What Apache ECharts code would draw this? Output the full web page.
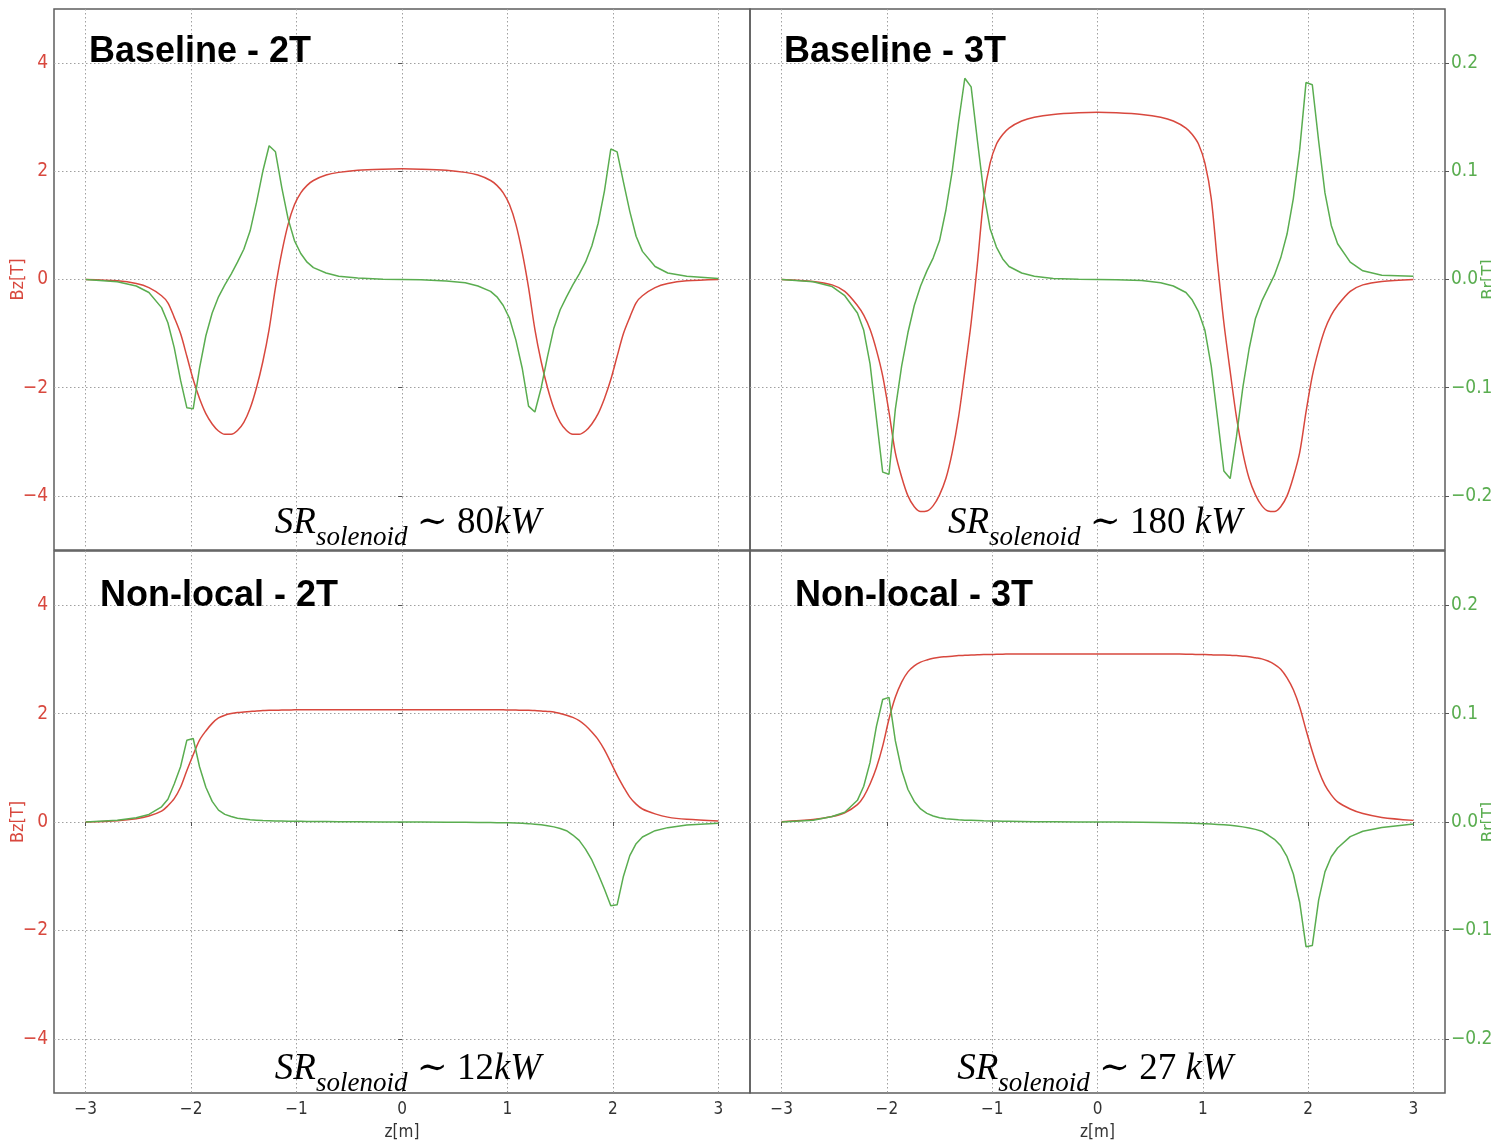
<!DOCTYPE html>
<html><head><meta charset="utf-8">
<script src="https://cdn.jsdelivr.net/npm/echarts@6/dist/echarts.min.js"></script>
<style>html,body{margin:0;padding:0;background:#fff}#c{width:1491px;height:1145px}</style>
</head><body><div id="c"></div><script>
// z positions [m]
const zPos = [
  -3, -2.7, -2.52, -2.4, -2.28, -2.22, -2.16, -2.1, -2.04, -1.98, -1.92,
  -1.86, -1.8, -1.74, -1.68, -1.62, -1.56, -1.5, -1.44, -1.38, -1.32, -1.26,
  -1.2, -1.14, -1.08, -1.02, -0.96, -0.9, -0.84, -0.72, -0.6, -0.42, -0.18,
  0, 0.18, 0.42, 0.6, 0.72, 0.84, 0.9, 0.96, 1.02, 1.08, 1.14,
  1.2, 1.26, 1.32, 1.38, 1.44, 1.5, 1.56, 1.62, 1.68, 1.74, 1.8,
  1.86, 1.92, 1.98, 2.04, 2.1, 2.16, 2.22, 2.28, 2.4, 2.52, 2.7, 3
];
// Baseline - 2T
const bzBase2T = [
  0, -0.025, -0.075, -0.15, -0.3, -0.43, -0.7, -1.0, -1.42, -1.85, -2.2,
  -2.48, -2.67, -2.8, -2.86, -2.86, -2.79, -2.64, -2.38, -2.0, -1.52, -0.92,
  -0.15, 0.5, 1.02, 1.38, 1.6, 1.74, 1.83, 1.93, 1.98, 2.02, 2.04,
  2.045, 2.04, 2.02, 1.98, 1.93, 1.83, 1.74, 1.6, 1.38, 1.02, 0.5,
  -0.15, -0.92, -1.52, -2.0, -2.38, -2.64, -2.79, -2.86, -2.86, -2.8, -2.67,
  -2.48, -2.2, -1.85, -1.42, -1.0, -0.7, -0.43, -0.3, -0.15, -0.075, -0.025, 0
];
const brBase2T = [
  0, -0.002, -0.006, -0.012, -0.026, -0.04, -0.063, -0.093, -0.1186, -0.1195, -0.082,
  -0.052, -0.031, -0.016, -0.005, 0.005, 0.016, 0.028, 0.045, 0.071, 0.1, 0.1236,
  0.118, 0.085, 0.056, 0.036, 0.024, 0.016, 0.011, 0.006, 0.003, 0.0013, 0.0003,
  0, -0.0003, -0.0013, -0.003, -0.006, -0.011, -0.016, -0.024, -0.036, -0.056, -0.082,
  -0.117, -0.1224, -0.1, -0.071, -0.045, -0.028, -0.016, -0.005, 0.005, 0.016, 0.031,
  0.052, 0.082, 0.1206, 0.118, 0.09, 0.063, 0.04, 0.026, 0.012, 0.006, 0.003, 0.001
];
// Baseline - 3T
const bzBase3T = [
  0, -0.035, -0.1, -0.22, -0.48, -0.66, -0.92, -1.3, -1.78, -2.45, -3.2,
  -3.65, -4.0, -4.2, -4.29, -4.28, -4.18, -3.98, -3.68, -3.2, -2.55, -1.7,
  -0.8, 0.3, 1.5, 2.15, 2.5, 2.68, 2.8, 2.93, 3.0, 3.05, 3.08,
  3.09, 3.08, 3.05, 3.0, 2.93, 2.8, 2.68, 2.5, 2.15, 1.5, 0.3,
  -0.8, -1.7, -2.55, -3.2, -3.68, -3.98, -4.18, -4.28, -4.29, -4.2, -4.0,
  -3.65, -3.2, -2.45, -1.78, -1.3, -0.92, -0.66, -0.48, -0.22, -0.1, -0.035, 0
];
const brBase3T = [
  0, -0.002, -0.0065, -0.015, -0.031, -0.047, -0.078, -0.128, -0.178, -0.18, -0.12,
  -0.08, -0.049, -0.024, -0.006, 0.008, 0.02, 0.036, 0.064, 0.1, 0.145, 0.186,
  0.178, 0.128, 0.08, 0.047, 0.03, 0.019, 0.012, 0.006, 0.003, 0.001, 0.0003,
  0, -0.0003, -0.001, -0.003, -0.006, -0.012, -0.019, -0.03, -0.047, -0.08, -0.128,
  -0.177, -0.184, -0.145, -0.1, -0.064, -0.036, -0.02, -0.008, 0.004, 0.02, 0.042,
  0.075, 0.12, 0.182, 0.18, 0.128, 0.08, 0.05, 0.033, 0.016, 0.008, 0.004, 0.003
];
// Non-local - 2T
const bzNonloc2T = [
  0, 0.025, 0.06, 0.11, 0.2, 0.3, 0.43, 0.64, 0.95, 1.24, 1.51,
  1.68, 1.82, 1.92, 1.97, 2.0, 2.02, 2.03, 2.04, 2.05, 2.055, 2.06,
  2.06, 2.065, 2.065, 2.07, 2.07, 2.07, 2.07, 2.07, 2.07, 2.07, 2.07,
  2.07, 2.07, 2.07, 2.07, 2.07, 2.07, 2.07, 2.07, 2.065, 2.065, 2.06,
  2.06, 2.055, 2.05, 2.04, 2.03, 2.0, 1.97, 1.93, 1.87, 1.78, 1.66,
  1.52, 1.33, 1.1, 0.86, 0.65, 0.46, 0.33, 0.24, 0.15, 0.09, 0.05, 0.02
];
const brNonloc2T = [
  0, 0.0016, 0.004, 0.007, 0.014, 0.021, 0.035, 0.051, 0.0755, 0.077, 0.051,
  0.032, 0.019, 0.011, 0.007, 0.005, 0.0035, 0.0028, 0.002, 0.0017, 0.0014, 0.0012,
  0.001, 0.0009, 0.0008, 0.0007, 0.0006, 0.0005, 0.0005, 0.0004, 0.0003, 0.0002, 0.0001,
  0, -0.0001, -0.0002, -0.0003, -0.0004, -0.0005, -0.0006, -0.0007, -0.0008, -0.001, -0.0012,
  -0.0015, -0.002, -0.0026, -0.0035, -0.0045, -0.006, -0.008, -0.012, -0.017, -0.025, -0.035,
  -0.048, -0.062, -0.0773, -0.0764, -0.05, -0.031, -0.02, -0.0138, -0.008, -0.0052, -0.0027, -0.0012
];
// Non-local - 3T
const bzNonloc3T = [
  0.005, 0.045, 0.1, 0.17, 0.32, 0.47, 0.7, 1.0, 1.4, 1.9, 2.3,
  2.58, 2.77, 2.88, 2.95, 2.99, 3.02, 3.04, 3.05, 3.06, 3.07, 3.075,
  3.08, 3.085, 3.09, 3.09, 3.095, 3.095, 3.1, 3.1, 3.1, 3.1, 3.1,
  3.1, 3.1, 3.1, 3.1, 3.1, 3.095, 3.095, 3.09, 3.09, 3.085, 3.08,
  3.08, 3.075, 3.07, 3.06, 3.05, 3.03, 3.01, 2.97, 2.91, 2.82, 2.66,
  2.44, 2.12, 1.7, 1.3, 0.95, 0.68, 0.5, 0.37, 0.24, 0.155, 0.085, 0.03
];
const brNonloc3T = [
  0, 0.0016, 0.005, 0.009, 0.02, 0.033, 0.055, 0.088, 0.113, 0.115, 0.075,
  0.048, 0.03, 0.019, 0.012, 0.008, 0.0055, 0.004, 0.003, 0.0025, 0.002, 0.0017,
  0.0015, 0.0013, 0.0011, 0.001, 0.0009, 0.0008, 0.0007, 0.0005, 0.0003, 0.0002, 0.0001,
  0, -0.0001, -0.0003, -0.0005, -0.0007, -0.001, -0.0012, -0.0014, -0.0016, -0.0019, -0.0022,
  -0.0026, -0.003, -0.0036, -0.0045, -0.0055, -0.0068, -0.0085, -0.012, -0.016, -0.022, -0.032,
  -0.048, -0.074, -0.115, -0.114, -0.072, -0.046, -0.032, -0.024, -0.0135, -0.0085, -0.005, -0.0018
];
const xTicks = [-3, -2, -1, 0, 1, 2, 3];
const bzTicks = [-4, -2, 0, 2, 4];
const brTicks = [-0.2, -0.1, 0, 0.1, 0.2];
const panelTitles = ['Baseline - 2T', 'Baseline - 3T', 'Non-local - 2T', 'Non-local - 3T'];
const srPower = ['80', '180 ', '12', '27 '];

const RED = '#d8483e', GREEN = '#5aad50';
const TICKFONT = "'DejaVu Sans Condensed', 'DejaVu Sans', sans-serif";
const SERIF = "'Liberation Serif', 'DejaVu Serif', serif";

const panels = [
  { grid: {left: 54, top: 9, width: 696, height: 541}, bz: bzBase2T, br: brBase2T, leftLab: true, rightLab: false, bottomLab: false,
    title: {x: 89, y: 52}, sr: {x: 408, y: 523} },
  { grid: {left: 750, top: 9, width: 695, height: 541}, bz: bzBase3T, br: brBase3T, leftLab: false, rightLab: true, bottomLab: false,
    title: {x: 784, y: 52}, sr: {x: 1095, y: 523} },
  { grid: {left: 54, top: 551, width: 696, height: 542}, bz: bzNonloc2T, br: brNonloc2T, leftLab: true, rightLab: false, bottomLab: true,
    title: {x: 100, y: 596}, sr: {x: 408, y: 1069} },
  { grid: {left: 750, top: 551, width: 695, height: 542}, bz: bzNonloc3T, br: brNonloc3T, leftLab: false, rightLab: true, bottomLab: true,
    title: {x: 795, y: 596}, sr: {x: 1095, y: 1069} }
];

const minusFmt = (v, d) => (v < 0 ? '\u2212' : '') + (d ? Math.abs(v).toFixed(d) : String(Math.abs(v)));
const gridLine = { show: true, lineStyle: { color: '#a0a0a0', type: [1.5, 2.5], width: 1 } };

const option = {
  backgroundColor: '#ffffff',
  animation: false,
  grid: panels.map(p => Object.assign({ show: true, borderColor: '#5e5e5e', borderWidth: 1.5, backgroundColor: 'rgba(0,0,0,0)', outerBoundsMode: 'none', containLabel: false }, p.grid)),
  xAxis: panels.map((p, i) => ({
    type: 'value', gridIndex: i, min: -3.3, max: 3.3,
    axisLine: { show: false },
    axisTick: { show: p.bottomLab, customValues: xTicks, length: 4, lineStyle: { color: '#555' } },
    axisLabel: { show: p.bottomLab, customValues: xTicks, formatter: v => minusFmt(v), color: '#333', fontSize: 17, fontFamily: TICKFONT, margin: 8 },
    splitLine: gridLine,
    name: p.bottomLab ? 'z[m]' : '', nameLocation: 'middle', nameGap: 31, nameMoveOverlap: false,
    nameTextStyle: { color: '#333', fontSize: 17, fontFamily: TICKFONT }
  })),
  yAxis: [],
  series: [],
  graphic: []
};

panels.forEach((p, i) => {
  option.yAxis.push({
    type: 'value', gridIndex: i, position: 'left', min: -5, max: 5,
    axisLine: { show: false },
    axisTick: { show: p.leftLab, customValues: bzTicks, length: 4, lineStyle: { color: '#555' } },
    axisLabel: { show: p.leftLab, customValues: bzTicks, formatter: v => minusFmt(v), color: RED, fontSize: 19, fontFamily: TICKFONT, margin: 6 },
    splitLine: gridLine,
    name: p.leftLab ? 'Bz[T]' : '', nameLocation: 'middle', nameGap: 27, nameRotate: 90, nameMoveOverlap: false,
    nameTextStyle: { color: RED, fontSize: 18, fontFamily: TICKFONT }
  });
  option.yAxis.push({
    type: 'value', gridIndex: i, position: 'right', min: -0.25, max: 0.25,
    axisLine: { show: false },
    axisTick: { show: p.rightLab, customValues: brTicks, length: 4, lineStyle: { color: '#555' } },
    axisLabel: { show: p.rightLab, customValues: brTicks, formatter: v => minusFmt(v, 1), color: GREEN, fontSize: 19, fontFamily: TICKFONT, margin: 6 },
    splitLine: { show: false },
    name: p.rightLab ? 'Br[T]' : '', nameLocation: 'middle', nameGap: 35, nameRotate: 90, nameMoveOverlap: false,
    nameTextStyle: { color: GREEN, fontSize: 18, fontFamily: TICKFONT }
  });
  option.series.push({
    type: 'line', xAxisIndex: i, yAxisIndex: 2 * i, showSymbol: false, smooth: 0.3,
    lineStyle: { color: RED, width: 1.5 }, itemStyle: { color: RED },
    data: zPos.map((z, k) => [z, p.bz[k]])
  });
  option.series.push({
    type: 'line', xAxisIndex: i, yAxisIndex: 2 * i + 1, showSymbol: false,
    lineStyle: { color: GREEN, width: 1.5 }, itemStyle: { color: GREEN },
    data: zPos.map((z, k) => [z, p.br[k]])
  });
  option.graphic.push({
    type: 'text', x: p.title.x, y: p.title.y, z: 100,
    style: { text: panelTitles[i], fill: '#000', font: "bold 36px 'Liberation Sans', Arial, sans-serif", align: 'left', verticalAlign: 'middle' }
  });
  option.graphic.push({
    type: 'text', x: p.sr.x, y: p.sr.y, z: 100,
    style: {
      text: '{it|SR}{sub|solenoid}{rm| \u223C ' + srPower[i] + '}{it|kW}',
      align: 'center', verticalAlign: 'middle', fill: '#000',
      rich: {
        it: { fontFamily: SERIF, fontStyle: 'italic', fontSize: 37, lineHeight: 40, fill: '#000' },
        sub: { fontFamily: SERIF, fontStyle: 'italic', fontSize: 27, lineHeight: 27, padding: [30, 0, 0, 0], fill: '#000' },
        rm: { fontFamily: SERIF, fontSize: 37, lineHeight: 40, fill: '#000' }
      }
    }
  });
});

const chart = echarts.init(document.getElementById('c'), null, { renderer: 'canvas' });
chart.setOption(option);
</script></body></html>
